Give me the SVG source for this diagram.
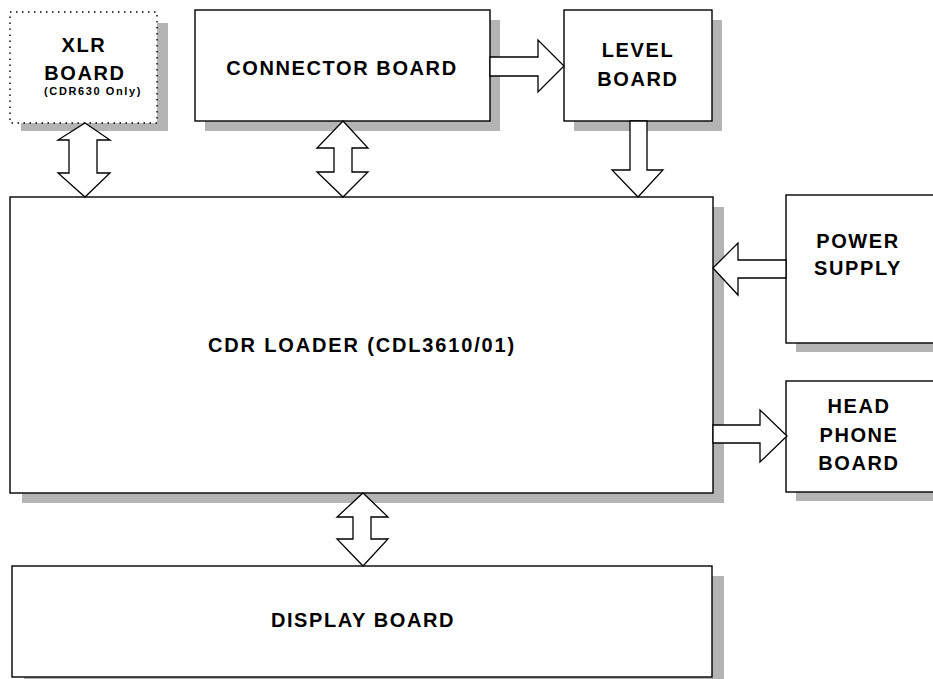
<svg xmlns="http://www.w3.org/2000/svg" width="933" height="679" viewBox="0 0 933 679">
<style>
.box{fill:#fff;stroke:#000;stroke-width:1.4}
.dot{fill:#fff;stroke:#000;stroke-width:1.4;stroke-dasharray:1.5 4.5}
.sh{fill:#b4b4b4}
.arr{fill:#fff;stroke:#000;stroke-width:1.3;stroke-linejoin:miter}
text{font-family:"Liberation Sans",Arial,sans-serif;font-weight:bold;fill:#000;text-anchor:middle;letter-spacing:1.6px}
.big{font-size:20px}
.wide{letter-spacing:1.85px}
.small{font-size:11px;letter-spacing:1.6px}
</style>
<rect width="933" height="679" fill="#fff"/>
<g id="xlr">
<rect class="sh" x="21" y="23" width="147" height="108"/>
<rect class="dot" x="10" y="12" width="147" height="111"/>
<text class="big" x="84" y="52">XLR</text>
<text class="big" x="85" y="80">BOARD</text>
<text class="small" x="93" y="95">(CDR630 Only)</text>
</g>
<g id="connector">
<rect class="sh" x="205" y="20" width="295" height="111"/>
<rect class="box" x="195" y="10" width="295" height="111"/>
<text class="big" x="342" y="75">CONNECTOR BOARD</text>
</g>
<g id="level">
<rect class="sh" x="574" y="20" width="148" height="111"/>
<rect class="box" x="564" y="10" width="148" height="111"/>
<text class="big" x="638" y="57">LEVEL</text>
<text class="big" x="638" y="86">BOARD</text>
</g>
<g id="loader">
<rect class="sh" x="22" y="207" width="702" height="296"/>
<rect class="box" x="10" y="197" width="703" height="296"/>
<text class="big wide" x="362" y="352">CDR LOADER (CDL3610/01)</text>
</g>
<g id="power">
<rect class="sh" x="796" y="205" width="160" height="147"/>
<rect class="box" x="786" y="195" width="160" height="148"/>
<text class="big" x="858" y="248">POWER</text>
<text class="big" x="858" y="275">SUPPLY</text>
</g>
<g id="headphone">
<rect class="sh" x="796" y="391" width="160" height="110"/>
<rect class="box" x="786" y="381" width="160" height="111"/>
<text class="big" x="859" y="413">HEAD</text>
<text class="big" x="859" y="442">PHONE</text>
<text class="big" x="859" y="470">BOARD</text>
</g>
<g id="display">
<rect class="sh" x="24" y="576" width="700" height="111"/>
<rect class="box" x="12" y="566" width="700" height="111"/>
<text class="big" x="363" y="627">DISPLAY BOARD</text>
</g>
<g id="connectors">
<polygon class="arr" points="85,123 110,140 97,140 97,173 110,173 85,197 58,173 69,173 69,140 58,140"/>
<polygon class="arr" points="343,121 368,148 352,148 352,172 368,172 343,197 317,172 334,172 334,148 317,148"/>
<polygon class="arr" points="363,493 388,517 371,517 371,539 388,539 363,566 337,539 353,539 353,517 337,517"/>
<polygon class="arr" points="490,57 538,57 538,40 564,66 538,92 538,76 490,76"/>
<polygon class="arr" points="630,121 647,121 647,170 663,170 638,197 612,170 630,170"/>
<polygon class="arr" points="786,260 738,260 738,243 713,268 738,295 738,278 786,278"/>
<polygon class="arr" points="713,425 760,425 760,410 787,436 760,462 760,443 713,443"/>
</g>
</svg>
